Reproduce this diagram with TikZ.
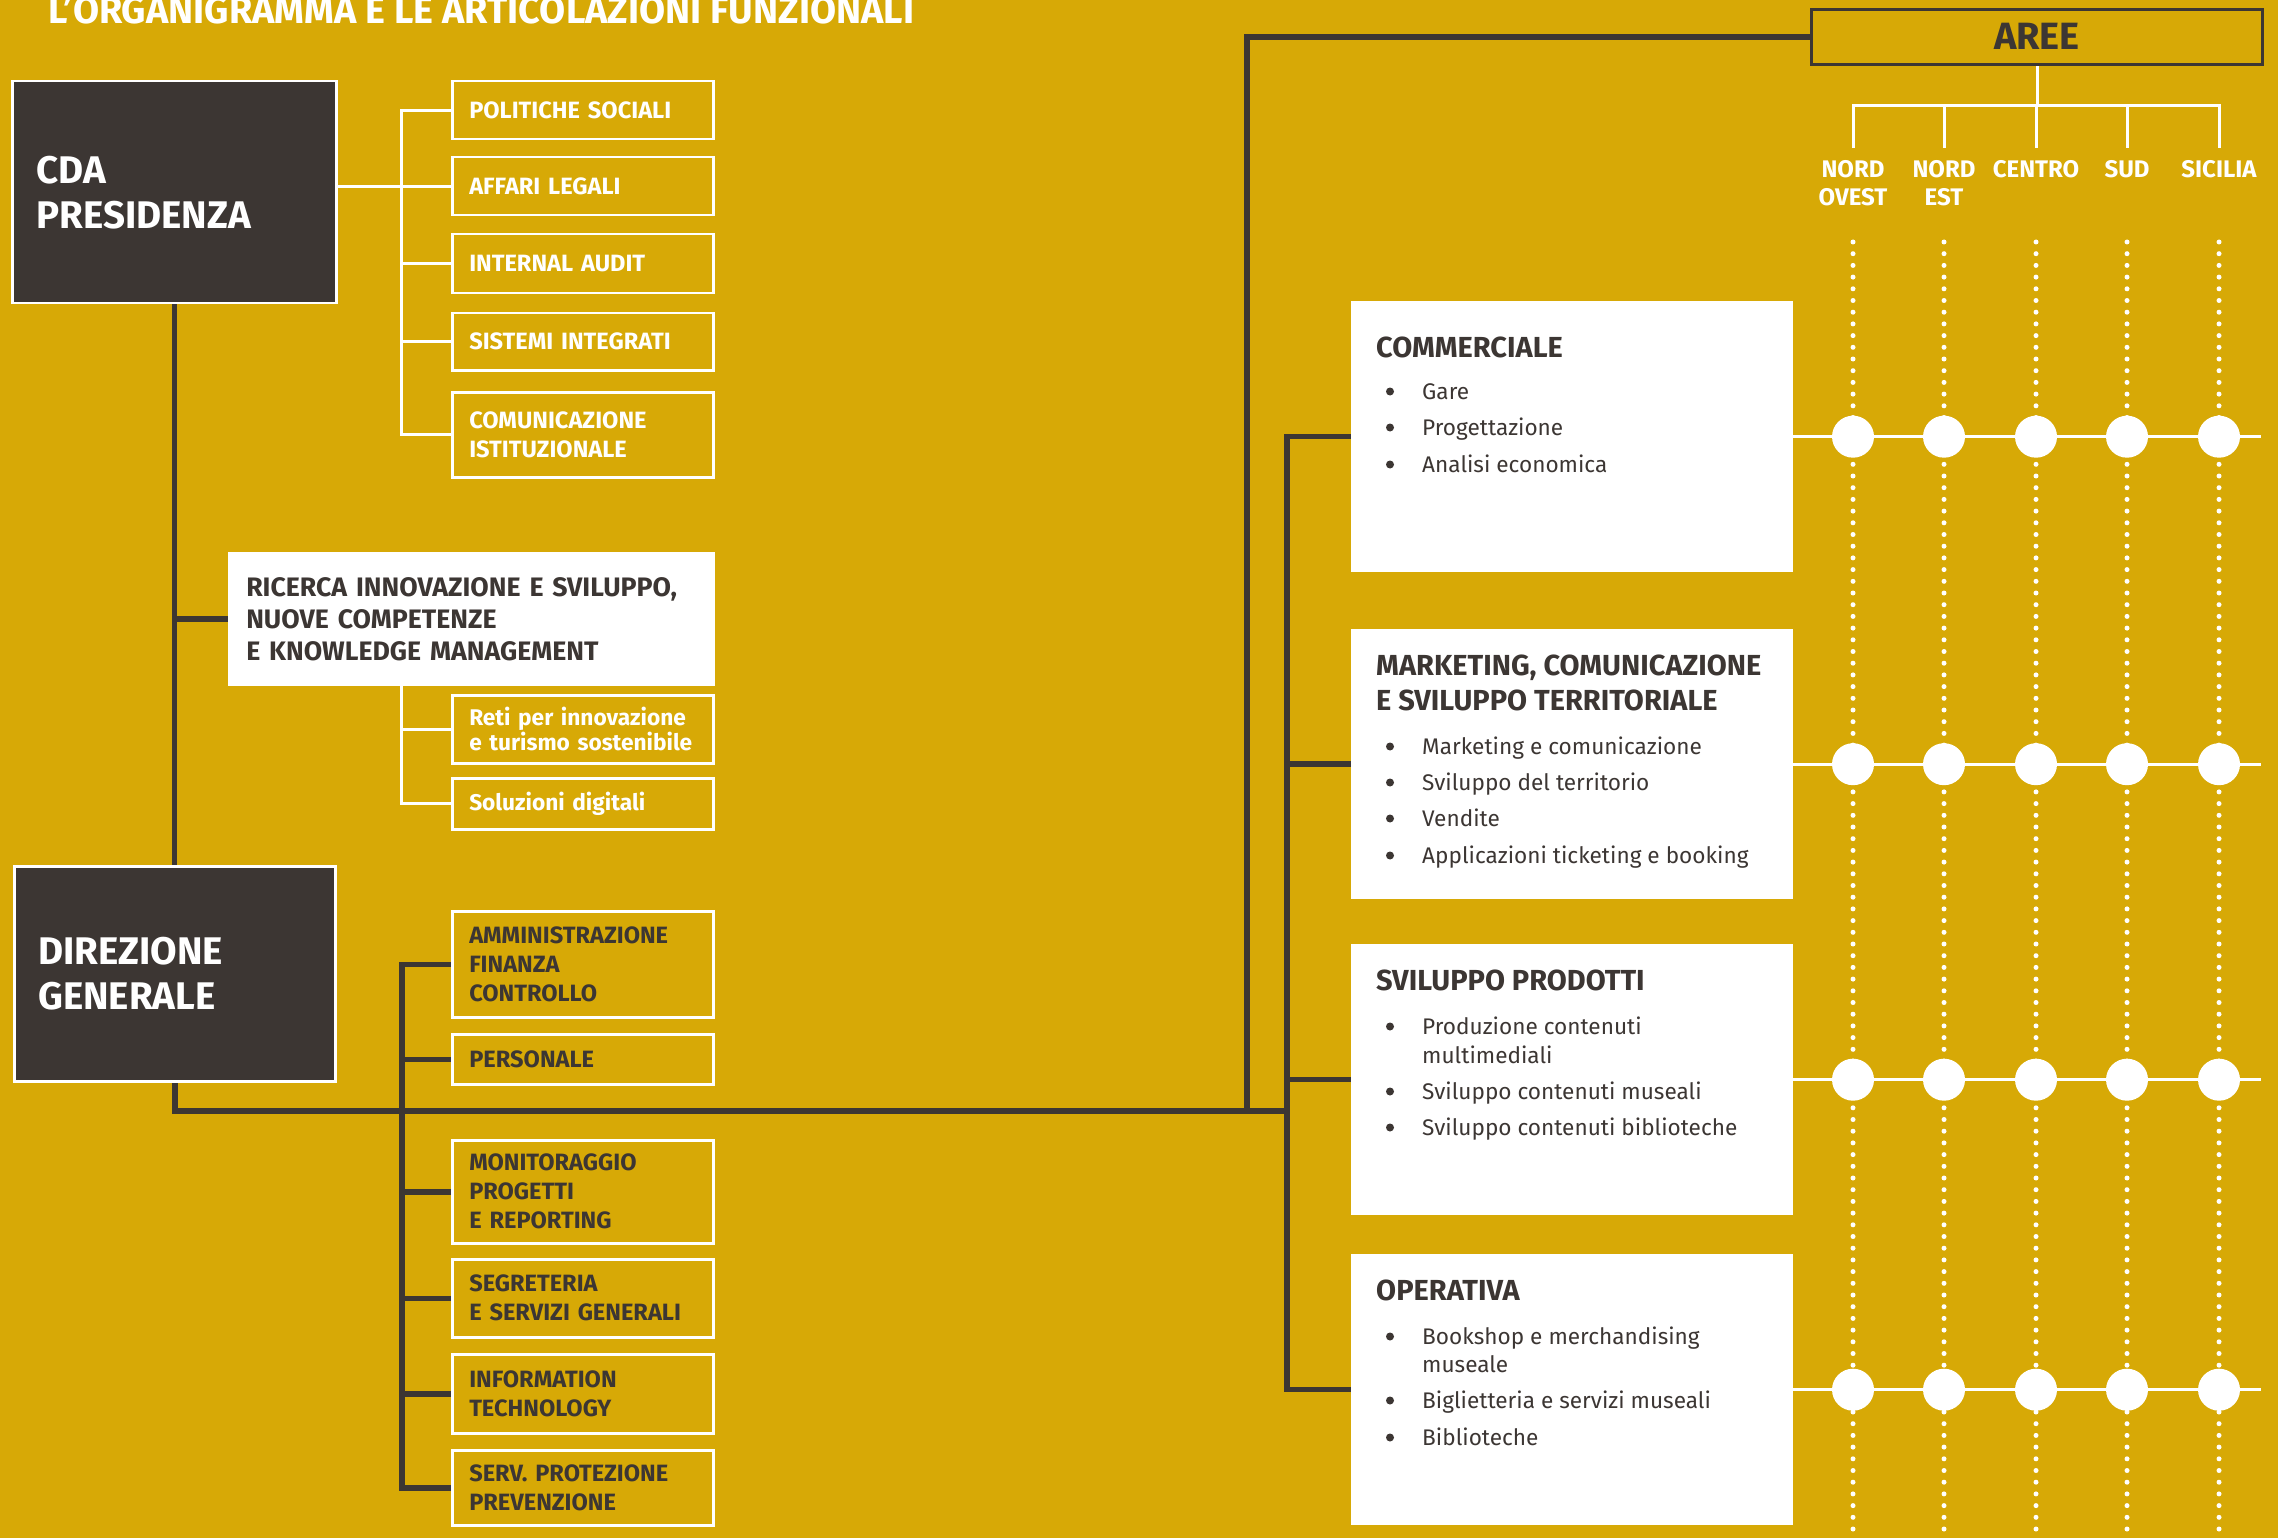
\documentclass[tikz,border=0pt]{standalone}
\usepackage{fontspec}
\setmainfont{Fira Sans}
\usetikzlibrary{positioning,backgrounds}

\definecolor{ochre}{HTML}{D7A906}
\definecolor{ink}{HTML}{3C3633}
\newcommand{\fsz}[2]{\fontsize{#1}{#2}\selectfont}

\tikzset{
  dline/.style={draw=ink, line width=5.5pt, line cap=rect},
  wline/.style={draw=white, line width=3pt, line cap=rect},
  dotline/.style={draw=white, line width=5pt, line cap=round, dash pattern=on 0pt off 11.7pt},
  headbox/.style={draw=white, line width=2.5pt, fill=ink, text=white, anchor=north west, align=left, inner xsep=24pt, font=\bfseries\fsz{38.5}{45}},
  unitbox/.style={draw=white, line width=2.5pt, anchor=north west, align=left, text width=227pt, inner xsep=17pt, inner ysep=0pt, font=\bfseries\fsz{23.6}{29}},
  areabox/.style={fill=white, anchor=north west, minimum width=442pt, inner sep=0pt},
  regname/.style={anchor=north, align=center, inner xsep=0pt, inner ysep=13pt, text=white, font=\bfseries\fsz{24}{28}},
  rtitle/.style={anchor=base west, inner sep=0pt, text=ink, font=\bfseries\fsz{29}{35}},
  btext/.style={anchor=base west, inner sep=0pt, text=ink, font=\fsz{22.6}{29}},
  hub/.style={circle, fill=white, minimum size=42pt, inner sep=0pt},
}

% bullet line in the right boxes: name, baseline, text
\newcommand{\bitem}[3]{%
  \fill[ink] (1390,#2-7.5) circle (4);
  \node[btext] (#1) at (1422,#2) {#3};}

\begin{document}
\begin{tikzpicture}[x=1pt,y=-1pt]
  \useasboundingbox (0,0) rectangle (2278,1538);

  \node[anchor=base west, inner sep=0pt, text=white, font=\bfseries\fsz{37.8}{40}] (title) at (48,24) {L’ORGANIGRAMMA E LE ARTICOLAZIONI FUNZIONALI};

  % Governance
  \node[headbox, text width=276pt, minimum height=222pt] (cda) at (11,80) {CDA\\PRESIDENZA};
  \node[headbox, text width=273pt, minimum height=215pt] (dg) at (13,865) {DIREZIONE\\GENERALE};

  % Staff of the board
  \node[unitbox, text=white, minimum height=58pt] (pol) at (451,80) {POLITICHE~SOCIALI};
  \node[unitbox, text=white, minimum height=58pt] (aff) at (451,156) {AFFARI~LEGALI};
  \node[unitbox, text=white, minimum height=59pt] (int) at (451,233) {INTERNAL~AUDIT};
  \node[unitbox, text=white, minimum height=57pt] (sis) at (451,312) {SISTEMI~INTEGRATI};
  \node[unitbox, text=white, minimum height=85pt] (comist) at (451,391) {COMUNICAZIONE\\ISTITUZIONALE};

  % Research
  \node[unitbox, fill=white, text=ink, text width=450pt, minimum height=131pt, font=\bfseries\fsz{26.7}{32}] (ric) at (228,552) {RICERCA~INNOVAZIONE~E~SVILUPPO,\\NUOVE~COMPETENZE\\E~KNOWLEDGE~MANAGEMENT};
  \node[unitbox, text=white, minimum height=68pt, font=\bfseries\fsz{22.7}{25}] (reti) at (451,694) {Reti~per~innovazione\\e~turismo~sostenibile};
  \node[unitbox, text=white, minimum height=51pt, font=\bfseries\fsz{22.7}{25}] (sol) at (451,777) {Soluzioni~digitali};

  % Staff of the general direction
  \node[unitbox, text=ink, minimum height=106pt] (amm) at (451,910) {AMMINISTRAZIONE\\FINANZA\\CONTROLLO};
  \node[unitbox, text=ink, minimum height=50pt] (per) at (451,1033) {PERSONALE};
  \node[unitbox, text=ink, minimum height=103pt] (mon) at (451,1139) {MONITORAGGIO\\PROGETTI\\E~REPORTING};
  \node[unitbox, text=ink, minimum height=78pt] (seg) at (451,1258) {SEGRETERIA\\E~SERVIZI~GENERALI};
  \node[unitbox, text=ink, minimum height=79pt] (inf) at (451,1353) {INFORMATION\\TECHNOLOGY};
  \node[unitbox, text=ink, minimum height=75pt] (spp) at (451,1449) {SERV.~PROTEZIONE\\PREVENZIONE};

  % Areas
  \node[draw=ink, line width=3pt, anchor=north west, minimum width=451pt, minimum height=55pt, text=ink, font=\bfseries\fsz{38}{40}] (aree) at (1810,8) {\raisebox{2pt}{AREE}};
  \node[regname] (reg1) at (1853,147) {NORD\\OVEST};
  \node[regname] (reg2) at (1944,147) {NORD\\EST};
  \node[regname] (reg3) at (2036,147) {CENTRO};
  \node[regname] (reg4) at (2127,147) {SUD};
  \node[regname] (reg5) at (2219,147) {SICILIA};

  % Functions
  \node[areabox, minimum height=271pt] (comm) at (1351,301) {};
  \node[areabox, minimum height=270pt] (mark) at (1351,629) {};
  \node[areabox, minimum height=271pt] (svil) at (1351,944) {};
  \node[areabox, minimum height=271pt] (oper) at (1351,1254) {};

  \node[rtitle] (comm-t) at (1376,357) {COMMERCIALE};
  \bitem{comm-1}{399}{Gare}
  \bitem{comm-2}{435}{Progettazione}
  \bitem{comm-3}{472}{Analisi economica}

  \node[rtitle] (mark-t1) at (1376,675) {MARKETING, COMUNICAZIONE};
  \node[rtitle] (mark-t2) at (1376,710) {E SVILUPPO TERRITORIALE};
  \bitem{mark-1}{754}{Marketing e comunicazione}
  \bitem{mark-2}{790}{Sviluppo del territorio}
  \bitem{mark-3}{826}{Vendite}
  \bitem{mark-4}{863}{Applicazioni ticketing e booking}

  \node[rtitle] (svil-t) at (1376,990) {SVILUPPO PRODOTTI};
  \bitem{svil-1}{1034}{Produzione contenuti}
  \node[btext] (svil-1b) at (1422,1063) {multimediali};
  \bitem{svil-2}{1099}{Sviluppo contenuti museali}
  \bitem{svil-3}{1135}{Sviluppo contenuti biblioteche}

  \node[rtitle] (oper-t) at (1376,1300) {OPERATIVA};
  \bitem{oper-1}{1344}{Bookshop e merchandising}
  \node[btext] (oper-1b) at (1422,1372) {museale};
  \bitem{oper-2}{1408}{Biglietteria e servizi museali}
  \bitem{oper-3}{1445}{Biblioteche}

  \coordinate (cbus) at (401,0);
  \coordinate (dbus) at (402,0);
  \coordinate (rbus) at (1287,1111);
  \coordinate (hub) at (1247,1111);
  \coordinate (tbar) at (0,106);
  \coordinate (dtop) at (0,242);
  \coordinate (dbot) at (0,1542);
  \coordinate (rend) at (2259,0);

  \begin{scope}[on background layer]
    \fill[ochre] (0,0) rectangle (2278,1538);

    % left side
    \draw[dline] (cda.south) -- (cda.south |- dg.north);
    \draw[dline] (cda.south |- ric.west) -- (ric.west);
    \draw[wline] (cda.east |- aff.west) -- (aff.west);
    \draw[wline] (cbus |- pol.west) -- (cbus |- comist.west);
    \foreach \nm in {pol,int,sis,comist} \draw[wline] (cbus |- \nm.west) -- (\nm.west);
    \draw[wline] (cbus |- ric.south) -- (cbus |- sol.west) -- (sol.west);
    \draw[wline] (cbus |- reti.west) -- (reti.west);
    \draw[dline] (dbus |- amm.west) -- (dbus |- spp.west);
    \foreach \nm in {amm,per,mon,seg,inf,spp} \draw[dline] (dbus |- \nm.west) -- (\nm.west);

    % trunk to the right
    \draw[dline] (dg.south) |- (rbus);
    \draw[dline] (hub) |- (aree.west);
    \draw[dline] (rbus |- comm.west) -- (rbus |- oper.west);
    \foreach \nm in {comm,mark,svil,oper} \draw[dline] (rbus |- \nm.west) -- (\nm.west);

    % areas tree
    \draw[wline] (aree.south) -- (aree.south |- tbar);
    \draw[wline] (reg1 |- tbar) -- (reg5 |- tbar);
    \foreach \c in {1,...,5} {
      \draw[wline] (reg\c |- tbar) -- (reg\c.north);
      \draw[dotline] (reg\c |- dtop) -- (reg\c |- dbot);
    }
    \foreach \nm in {comm,mark,svil,oper} \draw[wline] (\nm.east) -- (\nm.east -| rend);
  \end{scope}

  % crossings
  \foreach \nm in {comm,mark,svil,oper}
    \foreach \c in {1,...,5}
      \node[hub] (h-\nm-\c) at (reg\c |- \nm.east) {};
\end{tikzpicture}
\end{document}
